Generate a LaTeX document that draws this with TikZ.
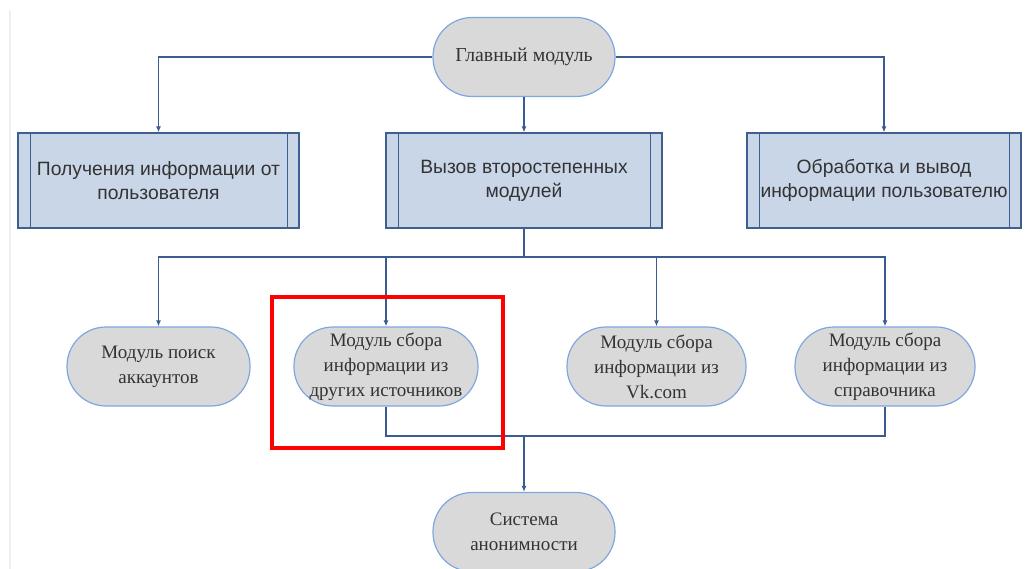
\documentclass[tikz,border=0pt]{standalone}
\usepackage{fontspec}
\setmainfont{Liberation Serif}
\newfontfamily\boxfont{Liberation Sans}
\usetikzlibrary{arrows.meta}
\definecolor{linkblue}{RGB}{58,92,145}
\definecolor{edgeblue}{RGB}{126,166,224}
\definecolor{boxfill}{RGB}{201,214,232}
\definecolor{boxedge}{RGB}{62,95,143}
\definecolor{pillfill}{RGB}{217,217,217}

\begin{document}
\begin{tikzpicture}[x=1pt,y=-1pt,
    pill/.style={draw=edgeblue, fill=pillfill, line width=1.2pt, rounded corners=39pt,
      minimum width=182pt, minimum height=79pt, align=center, font=\fontsize{19}{25}\selectfont,
      text=black!80, inner sep=0pt},
    procbox/.style={draw=boxedge, fill=boxfill, line width=1.2pt, minimum height=95pt,
      align=center, font=\boxfont\fontsize{19.3}{24}\selectfont, text=black!80, inner sep=0pt,
      path picture={
        \draw[boxedge, line width=1pt] ([xshift=12pt]path picture bounding box.north west) -- ([xshift=12pt]path picture bounding box.south west);
        \draw[boxedge, line width=1pt] ([xshift=-12pt]path picture bounding box.north east) -- ([xshift=-12pt]path picture bounding box.south east);}},
    link/.style={draw=linkblue, line width=1.4pt},
    arr/.style={link, -{Latex[length=6pt,width=5pt]}}]
    \useasboundingbox (0,0) rectangle (1033,569);
    \clip (0,0) rectangle (1033,569);

    % Screen edge
    \draw[gray!12, line width=2pt] (10,10) -- (10,569);

    % Top module
    \node[pill, font=\fontsize{19.8}{25}\selectfont] (main) at (524,57) {Главный модуль};

    % Second level
    \node[procbox, minimum width=281pt] (getinfo) at (158.5,180.5) {Получения информации от\\пользователя};
    \node[procbox, minimum width=276pt] (callmods) at (524,180.5) {Вызов второстепенных\\модулей};
    \node[procbox, minimum width=274pt] (output) at (884,180.5) {Обработка и вывод\\информации пользователю};

    % Secondary modules
    \node[pill, minimum width=183pt] (search) at (158.5,366.5) {Модуль поиск\\аккаунтов};
    \node[pill, minimum width=184pt] (other) at (386,366.5) {Модуль сбора\\информации из\\других источников};
    \node[pill, minimum width=179pt] (vk) at (656.5,366.5) {Модуль сбора\\информации из\\Vk.com};
    \node[pill, minimum width=180pt] (spr) at (885,366.5) {Модуль сбора\\информации из\\справочника};

    % Bottom module
    \node[pill] (anon) at (524,532) {Система\\анонимности};

    % Connectors
    \draw[arr] (main.west) -| (getinfo.north);
    \draw[arr] (main.east) -| (output.north);
    \draw[arr] (main.south) -- (callmods.north);

    \coordinate (split) at (524,257);
    \draw[link] (callmods.south) -- (split);
    \draw[arr] (split) -| (search.north);
    \draw[arr] (split) -| (other.north);
    \draw[arr] (split) -| (vk.north);
    \draw[arr] (split) -| (spr.north);

    \coordinate (merge) at (524,436);
    \draw[link] (other.south) |- (merge);
    \draw[link] (spr.south) |- (merge);
    \draw[arr] (merge) -- (anon.north);

    % Highlight
    \draw[red, line width=4pt] (272,297) rectangle (503,448);
\end{tikzpicture}
\end{document}
